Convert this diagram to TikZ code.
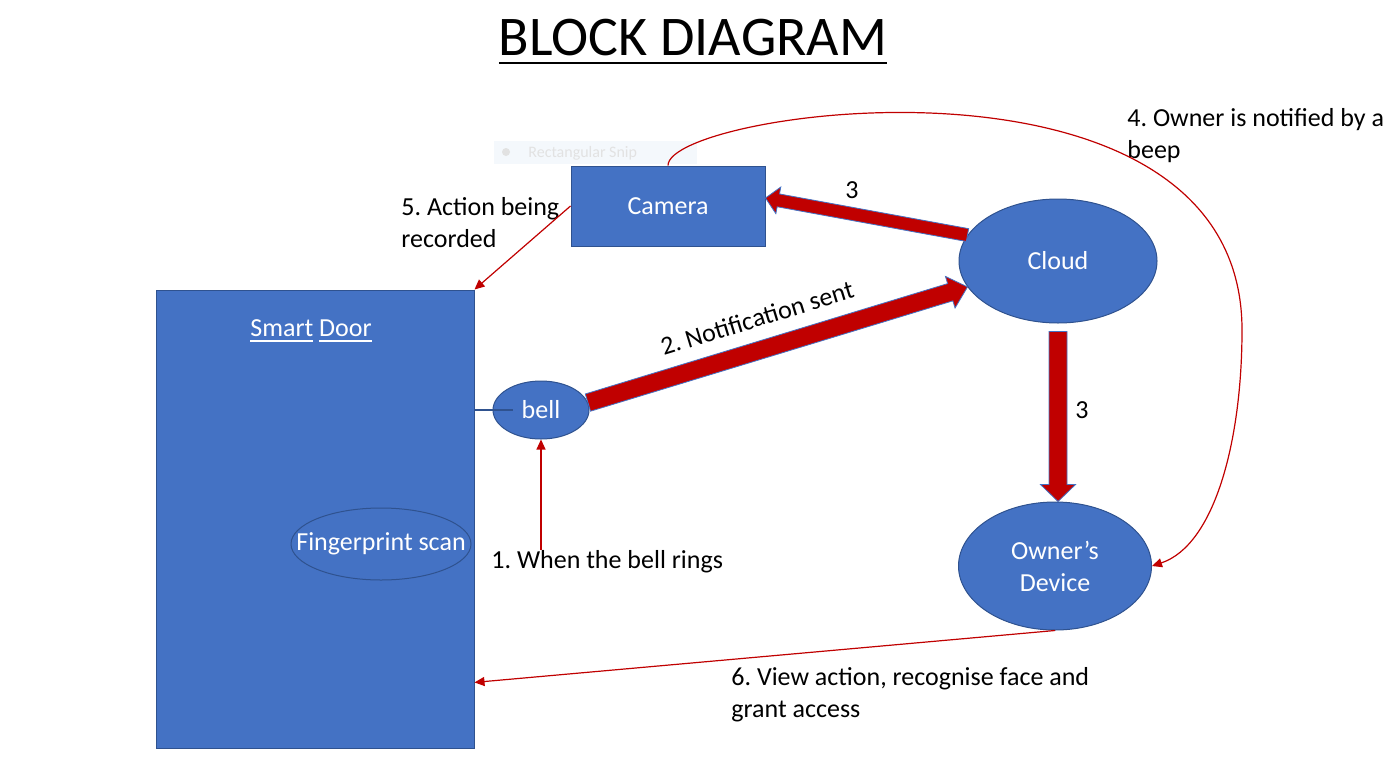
\documentclass[tikz,border=0pt]{standalone}
\usepackage{fontspec}
\setmainfont{Carlito}
\usetikzlibrary{calc,positioning,shapes.geometric,arrows.meta}

\definecolor{boxblue}{HTML}{4472C4}
\definecolor{edgeblue}{HTML}{2F528F}
\definecolor{arrowred}{HTML}{C00000}
\definecolor{snipbg}{HTML}{F4F8FC}
\definecolor{sniptext}{HTML}{E2E2E2}

% underline with own thickness and depth
\newlength\ulwd
\newcommand\ulthick[3]{\settowidth\ulwd{#3}\rlap{\rule[-#2]{\ulwd}{#1}}#3}

% block arrow: from, to, shaft half width, head half width, head length (pt)
\newcommand\fatarrow[5]{%
  \draw[fatstyle] let \p1=($(#2)-(#1)$), \n1={atan2(\y1,\x1)}, \n2={veclen(\x1,\y1)-#5} in
    ($(#1)+(\n1+90:#3pt)$) -- ($(#1)!\n2!(#2)+(\n1+90:#3pt)$)
    -- ($(#1)!\n2!(#2)+(\n1+90:#4pt)$) -- (#2)
    -- ($(#1)!\n2!(#2)+(\n1-90:#4pt)$) -- ($(#1)!\n2!(#2)+(\n1-90:#3pt)$)
    -- ($(#1)+(\n1-90:#3pt)$) -- cycle;}

\begin{document}
\frenchspacing
\begin{tikzpicture}[x=0.5pt,y=-0.5pt,
  every node/.style={font=\fontsize{13}{16}\selectfont},
  blockbox/.style={draw=edgeblue, fill=boxblue, text=white, line width=0.5pt, inner sep=0pt, align=center},
  blob/.style={blockbox, ellipse},
  note/.style={anchor=base west, inner sep=0pt, align=left},
  thinarrow/.style={draw=arrowred, line width=0.6pt, -{Triangle[length=5pt,width=4.5pt]}},
  fatstyle/.style={fill=arrowred, draw=boxblue, line width=0.4pt, line join=miter}]
\useasboundingbox (0,0) rectangle (1386,777);

\node[anchor=base, inner sep=0pt, font=\fontsize{28}{34}\selectfont] (title) at (693,55) {\ulthick{1.25pt}{4.6pt}{BLOCK DIAGRAM}};

% leftover snip toolbar
\node[fill=snipbg, minimum width=101.5pt, minimum height=11.5pt, inner sep=0pt, anchor=north west] (snip) at (494,141) {};
\fill[sniptext] (506,152) circle[radius=2pt];
\node[anchor=west, inner sep=0pt, text=sniptext, font=\fontsize{8}{9}\selectfont] (sniptxt) at (528,153) {Rectangular Snip};

\node[blockbox, minimum width=97pt, minimum height=40pt] (camera) at (668,206) {Camera};
\node[blob, minimum width=99pt, minimum height=62pt] (cloud) at (1058,261) {Cloud};
\node[blob, minimum width=96.5pt, minimum height=64pt] (device) at (1055,566) {Owner’s\\Device};
\node[blockbox, minimum width=159pt, minimum height=229pt] (door) at (315,519) {};
\node[anchor=base, inner sep=0pt, text=white] (doorlabel) at ([xshift=-2pt,yshift=-23.5pt]door.north) {\ulthick{0.7pt}{2.6pt}{Smart} \ulthick{0.7pt}{2.6pt}{Door}};
\node[ellipse, draw=edgeblue, line width=0.5pt, text=white, inner sep=0pt, minimum width=90pt, minimum height=36pt] (finger) at (381,544) {\makebox[0pt]{Fingerprint scan}};
\node[blob, minimum width=48pt, minimum height=29pt] (bell) at (541,410) {bell};

\coordinate (camtip) at ([yshift=4pt]camera.east);
\coordinate (cloudbot) at ([yshift=-4pt]cloud.south);
\coordinate (devtop) at (cloudbot |- device.north);
\coordinate (bend) at (1242,330);
\coordinate (grant) at ($(door.south east)!0.144!(door.north east)$);

% labels
\node[note] (lab1) at (491,568) {1. When the bell rings};
\node[inner sep=0pt, rotate=17] (lab2) at (757,318) {2. Notification sent};
\node[note] (lab3a) at (845,198) {3};
\node[note] (lab3b) at (1075,418) {3};
\node[note] (lab4) at (1127,158) {4. Owner is notified by a\\beep};
\node[note] (lab5) at (401,247) {5. Action being\\recorded};
\node[note] (lab6) at (731,717) {6. View action, recognise face and\\grant access};

% connectors
\draw[edgeblue, line width=0.6pt] (door.east |- bell.center) -- ([xshift=-14pt]bell.center);
\draw[thinarrow] (lab1.north -| bell.south) -- (bell.south);
\fatarrow{bell.9}{cloud.196}{4.5}{8.25}{9}
\fatarrow{cloud.164}{camtip}{3.25}{6.75}{6.5}
\fatarrow{cloudbot}{devtop}{4.5}{8.75}{8.5}
\draw[thinarrow] (camera.north) .. controls (668,110) and (1242,30) .. (bend) .. controls (1242,440) and (1215,545) .. (device.east);
\draw[thinarrow] (camera.west) -- (door.north east);
\draw[thinarrow] (device.south) -- (grant);
\end{tikzpicture}
\end{document}
